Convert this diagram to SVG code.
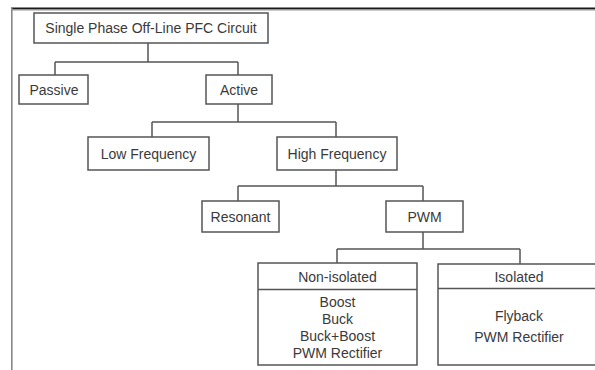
<svg xmlns="http://www.w3.org/2000/svg" width="595" height="370" viewBox="0 0 595 370">
<style>
.box{fill:#fff;stroke:#555;stroke-width:1.5}
.ln{fill:none;stroke:#555;stroke-width:1.5}
text{font-family:"Liberation Sans",Arial,sans-serif;font-size:14px;fill:#3a3a3a;text-anchor:middle}
</style>
<rect width="595" height="370" fill="#fff"/>
<g id="frame">
<line x1="11" y1="8.5" x2="595" y2="8.5" stroke="#1a1a1a" stroke-width="2"/>
<line x1="595" y1="10" x2="11" y2="10" stroke="#999" stroke-width="1"/>
<line x1="11.8" y1="8" x2="11.8" y2="370" stroke="#888" stroke-width="1.6"/>
</g>
<g id="connectors">
<path class="ln" d="M148 43V62M55 62H238M55 62V75M238 62V75"/>
<path class="ln" d="M238 104V122M152 122H336M152 122V137M336 122V137"/>
<path class="ln" d="M336 170V186M238 186H423M238 186V201M423 186V201"/>
<path class="ln" d="M423 232V249M337 249H520M337 249V263M520 249V264"/>
</g>
<g id="root">
<rect class="box" x="34" y="13" width="234" height="30"/>
<text x="151" y="33">Single Phase Off-Line PFC Circuit</text>
</g>
<g id="passive">
<rect class="box" x="19" y="75" width="69" height="29"/>
<text x="54" y="94.5">Passive</text>
</g>
<g id="active">
<rect class="box" x="206" y="75" width="66" height="29"/>
<text x="239" y="94.5">Active</text>
</g>
<g id="low-frequency">
<rect class="box" x="88" y="137" width="121" height="33"/>
<text x="148.5" y="158.5">Low Frequency</text>
</g>
<g id="high-frequency">
<rect class="box" x="277" y="137" width="120" height="33"/>
<text x="337" y="158.5">High Frequency</text>
</g>
<g id="resonant">
<rect class="box" x="202" y="201" width="77" height="31"/>
<text x="240.5" y="221.5">Resonant</text>
</g>
<g id="pwm">
<rect class="box" x="386" y="201" width="77" height="31"/>
<text x="424.5" y="221.5">PWM</text>
</g>
<g id="non-isolated">
<rect class="box" x="258" y="263" width="159" height="102"/>
<line class="ln" x1="258" y1="289.5" x2="417" y2="289.5"/>
<text x="337.5" y="282">Non-isolated</text>
<text x="337.5" y="307">Boost</text>
<text x="337.5" y="323.5">Buck</text>
<text x="337.5" y="341">Buck+Boost</text>
<text x="337.5" y="358">PWM Rectifier</text>
</g>
<g id="isolated">
<rect class="box" x="438" y="264" width="162" height="101"/>
<line class="ln" x1="438" y1="288.5" x2="600" y2="288.5"/>
<text x="519" y="282">Isolated</text>
<text x="519" y="321">Flyback</text>
<text x="519" y="342">PWM Rectifier</text>
</g>
</svg>
